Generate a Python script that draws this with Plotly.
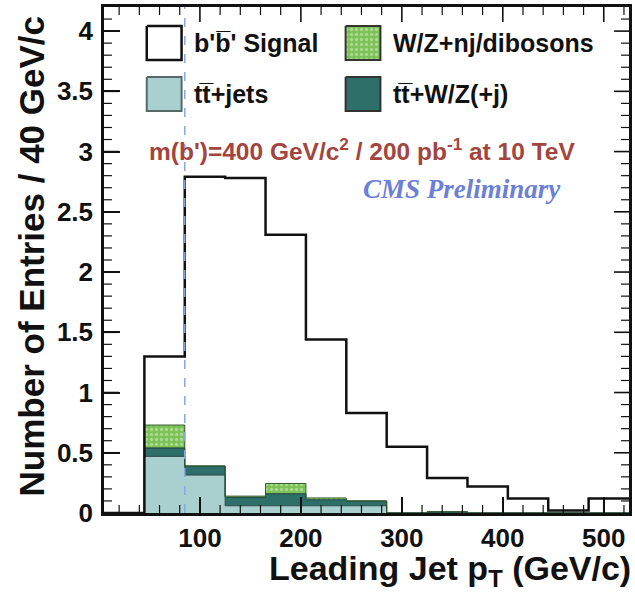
import plotly.graph_objects as go
import numpy as np

# ---------------- data ----------------
bin_edges = [5, 45, 85, 125, 165, 205, 245, 285, 325, 365, 405, 445, 485, 525]
signal_vals = [0, 1.30, 2.79, 2.78, 2.31, 1.44, 0.83, 0.55, 0.29, 0.22, 0.12, 0.02, 0.12]
ttjets_vals = [0, 0.47, 0.315, 0.06, 0.06, 0.06, 0.06, 0, 0, 0, 0, 0, 0]
ttwz_vals = [0, 0.07, 0.075, 0.07, 0.10, 0.05, 0.04, 0, 0.01, 0, 0, 0, 0]
wz_vals = [0, 0.19, 0.0, 0.01, 0.085, 0.015, 0, 0, 0, 0, 0, 0, 0]
cut_value = 85
x_tick_vals = [100, 200, 300, 400, 500]
y_tick_vals = [0, 0.5, 1, 1.5, 2, 2.5, 3, 3.5, 4]
y_tick_text = ["0", "0.5", "1", "1.5", "2", "2.5", "3", "3.5", "4"]
legend_names = ["b'b\u0305' Signal", "W/Z+nj/dibosons", "tt\u0305+jets", "tt\u0305+W/Z(+j)"]

# ---------------- styles ----------------
W, H = 635, 592
L, R, T, B = 104, 632, 7, 513
X_RANGE = [bin_edges[0], bin_edges[-1]]
Y_RANGE = [0, 4.2]
FONT = "Liberation Sans, Arial, Helvetica, sans-serif"
c_ttjets, c_ttjets_line = "#a9cfcf", "#2e4c4a"
c_ttwz, c_ttwz_line = "#2e6f69", "#1b3d3a"
c_wz_bg, c_wz_fg, c_wz_line = "#7cc258", "#d6f2c2", "#2f5a2a"
INK = "#111111"
wz_pattern = dict(shape=".", bgcolor=c_wz_bg, fgcolor=c_wz_fg, size=5, solidity=0.35)


def step(v):
    return list(v) + [v[-1]]


# pixel -> paper / data helpers (for legend & text placement only)
def ppx(x):
    return (x - L) / (R - L)


def ppy(y):
    return (B - y) / (B - T)


def dx(x):
    return X_RANGE[0] + ppx(x) * (X_RANGE[1] - X_RANGE[0])


def dy(y):
    return Y_RANGE[0] + ppy(y) * (Y_RANGE[1] - Y_RANGE[0])


c1 = np.array(ttjets_vals)
c2 = c1 + np.array(ttwz_vals)
c3 = c2 + np.array(wz_vals)

fig = go.Figure()
fig.add_trace(go.Scatter(x=bin_edges, y=step(c1), mode="lines", line=dict(shape="hv", color=c_ttjets_line, width=1),
                         fill="tozeroy", fillcolor=c_ttjets, showlegend=False, hoverinfo="skip"))
fig.add_trace(go.Scatter(x=bin_edges, y=step(c2), mode="lines", line=dict(shape="hv", color=c_ttwz_line, width=1),
                         fill="tonexty", fillcolor=c_ttwz, showlegend=False, hoverinfo="skip"))
fig.add_trace(go.Scatter(x=bin_edges, y=step(c3), mode="lines", line=dict(shape="hv", color=c_wz_line, width=1),
                         fill="tonexty", fillcolor=c_wz_bg, fillpattern=wz_pattern,
                         showlegend=False, hoverinfo="skip"))
fig.add_trace(go.Scatter(x=bin_edges, y=step(signal_vals), mode="lines", line=dict(shape="hv", color=INK, width=2.5),
                         showlegend=False, hoverinfo="skip"))

# ---------- manual ROOT-like legend ----------
box_w, box_h = 35, 34
legend_pos = [(147, 26), (347, 26), (147, 77), (347, 77)]
legend_styles = [
    dict(fillcolor="white", line=dict(color=INK, width=2.5)),
    dict(fillcolor=c_wz_bg, line=dict(color="#333333", width=2), fillpattern=wz_pattern),
    dict(fillcolor=c_ttjets, line=dict(color="#556b6a", width=2)),
    dict(fillcolor=c_ttwz, line=dict(color="#333333", width=2)),
]
for (bx, by), st, name in zip(legend_pos, legend_styles, legend_names):
    xs = [dx(bx), dx(bx + box_w), dx(bx + box_w), dx(bx), dx(bx)]
    ys = [dy(by), dy(by), dy(by + box_h), dy(by + box_h), dy(by)]
    fig.add_trace(go.Scatter(x=xs, y=ys, mode="lines", fill="toself", showlegend=False, hoverinfo="skip", **st))
    fig.add_annotation(x=ppx(bx + box_w + 11), y=ppy(by + box_h / 2), xref="paper", yref="paper", text=name,
                       showarrow=False, xanchor="left", yanchor="middle",
                       font=dict(family=FONT, size=25, color=INK, weight="bold"))

# texts
fig.add_annotation(x=ppx(363), y=ppy(149), xref="paper", yref="paper", showarrow=False, xanchor="center",
                   yanchor="middle", text="m(b')=400 GeV/c<sup>2</sup> / 200 pb<sup>-1</sup> at 10 TeV",
                   font=dict(family=FONT, size=24.5, color="#a3453e", weight="bold"))
fig.add_annotation(x=ppx(464), y=ppy(189), xref="paper", yref="paper", showarrow=False, xanchor="center",
                   yanchor="middle", text="<i>CMS Preliminary</i>",
                   font=dict(family="Liberation Serif, Times New Roman, serif", size=27, color="#6b80d6",
                             weight="bold"))

# axis titles
fig.add_annotation(x=ppx(635), y=ppy(570), xref="paper", yref="paper", showarrow=False, xanchor="right",
                   yanchor="middle", text="Leading Jet p<sub>T</sub> (GeV/c)", borderpad=0,
                   font=dict(family=FONT, size=34, color=INK, weight="bold"))
fig.add_annotation(x=ppx(31), y=ppy(256), xref="paper", yref="paper", showarrow=False, xanchor="center",
                   yanchor="middle", textangle=-90, text="Number of Entries / 40 GeV/c", borderpad=0,
                   font=dict(family=FONT, size=35, color=INK, weight="bold"))

# dashed cut line
fig.add_shape(type="line", x0=cut_value, x1=cut_value, y0=0, y1=1, xref="x", yref="paper",
              line=dict(color="#8aa6e6", width=1.5, dash="dash"), layer="above")

# ---------- ROOT-style tick marks on all four sides (from the tick arrays) ----------
MAJ_LEN, MIN_LEN = 15, 8
x_minor = [v for v in range(20, int(X_RANGE[1]), 20) if v not in x_tick_vals and v > X_RANGE[0]]
y_minor = [round(0.1 * i, 1) for i in range(1, 42) if i % 5 != 0]
fx = 1.0 / (B - T)   # paper units per pixel (vertical)
fy = 1.0 / (R - L)   # paper units per pixel (horizontal)
for vals, ln, wd in ((x_tick_vals, MAJ_LEN, 1.6), (x_minor, MIN_LEN, 1.2)):
    for v in vals:
        for y0, y1 in ((0, ln * fx), (1, 1 - ln * fx)):
            fig.add_shape(type="line", x0=v, x1=v, y0=y0, y1=y1, xref="x", yref="paper",
                          line=dict(color=INK, width=wd), layer="above")
for vals, ln, wd in ((y_tick_vals[1:], MAJ_LEN, 1.6), (y_minor, MIN_LEN, 1.2)):
    for v in vals:
        for x0, x1 in ((0, ln * fy), (1, 1 - ln * fy)):
            fig.add_shape(type="line", x0=x0, x1=x1, y0=v, y1=v, xref="paper", yref="y",
                          line=dict(color=INK, width=wd), layer="above")

tick_font = dict(family=FONT, size=26, color=INK, weight="bold")
fig.update_layout(
    width=W, height=H,
    margin=dict(l=L, r=W - R, t=T, b=H - B),
    paper_bgcolor="white", plot_bgcolor="white",
    showlegend=False,
    xaxis=dict(range=X_RANGE, tickvals=x_tick_vals, ticks="inside", ticklen=16, tickwidth=2, tickcolor=INK,
               showline=True, linewidth=2.5, linecolor=INK, mirror=True, showgrid=False, zeroline=False,
               ticklabelstandoff=0, tickfont=tick_font),
    yaxis=dict(range=Y_RANGE, tickvals=y_tick_vals, ticktext=y_tick_text, ticks="inside", ticklen=16,
               tickwidth=2, tickcolor=INK, showline=True, linewidth=2.5, linecolor=INK, mirror=True,
               showgrid=False, zeroline=False, ticklabelstandoff=3, tickfont=tick_font),
)

fig.write_html("out.html")
